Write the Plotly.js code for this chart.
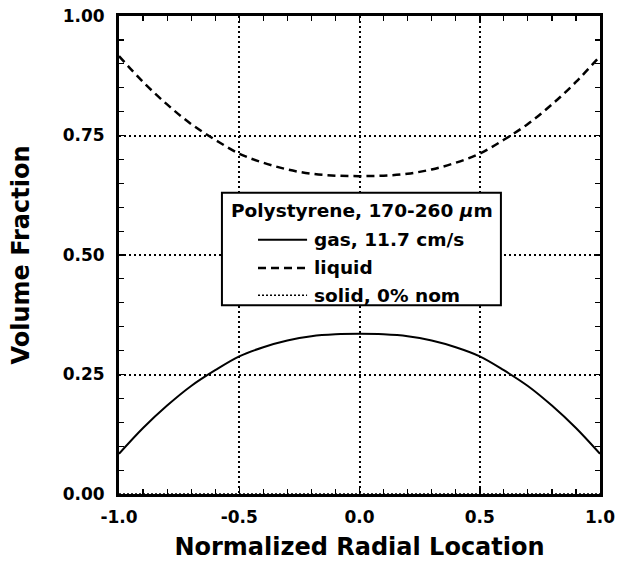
<!DOCTYPE html>
<html>
<head>
<meta charset="utf-8">
<script src="https://cdn.plot.ly/plotly-3.0.1.min.js"></script>
<style>
html,body{margin:0;padding:0;background:#fff;}
#chart{width:623px;height:567px;}
</style>
</head>
<body>
<div id="chart"></div>
<script>
const radialLocation = [-1.0,-0.9,-0.8,-0.7,-0.6,-0.5,-0.4,-0.3,-0.2,-0.1,0.0,0.1,0.2,0.3,0.4,0.5,0.6,0.7,0.8,0.9,1.0];
const gasFraction    = [0.084,0.138,0.185,0.226,0.259,0.288,0.307,0.321,0.330,0.334,0.335,0.334,0.330,0.321,0.307,0.288,0.259,0.226,0.185,0.138,0.084];
const liquidFraction = [0.916,0.862,0.815,0.774,0.741,0.712,0.693,0.679,0.670,0.666,0.665,0.666,0.670,0.679,0.693,0.712,0.741,0.774,0.815,0.862,0.916];
const solidFraction  = [0,0,0,0,0,0,0,0,0,0,0,0,0,0,0,0,0,0,0,0,0];
const seriesNames = ['gas, 11.7 cm/s','liquid','solid, 0% nom'];
const xTickVals = [-1.0,-0.5,0.0,0.5,1.0];
const xTickText = ['-1.0','-0.5','0.0','0.5','1.0'];
const yTickVals = [0,0.25,0.5,0.75,1.0];
const yTickText = ['0.00','0.25','0.50','0.75','1.00'];
const legendTitle = 'Polystyrene, 170-260 <i>μ</i>m';

const FONT = 'DejaVu Sans, Arial, sans-serif';
const lineStyles = [
  {color:'#000', width:2, dash:'solid'},
  {color:'#000', width:2.5, dash:'8px,5px'},
  {color:'#000', width:1.5, dash:'2px,2px'}
];
const seriesY = [gasFraction, liquidFraction, solidFraction];
const traces = seriesY.map((ys, i) => ({
  x: radialLocation, y: ys, name: seriesNames[i], mode:'lines', showlegend:false,
  line: Object.assign({shape: i < 2 ? 'spline' : 'linear'}, lineStyles[i])
}));

// Legend box (drawn in paper coordinates, like the original boxed key)
const legendBox = {x0:0.214, x1:0.794, y0:0.395, y1:0.630};
const legendTitlePos = {x:0.229, y:0.594};
const legendRowsY = [0.532, 0.473, 0.416];
const legendLineX = [0.289, 0.391];
const legendTextX = 0.402;

const shapes = [{type:'rect', xref:'paper', yref:'paper',
  x0:legendBox.x0, x1:legendBox.x1, y0:legendBox.y0, y1:legendBox.y1,
  line:{color:'#000', width:2}, fillcolor:'#fff', layer:'above'}];
const annotations = [{xref:'paper', yref:'paper', x:legendTitlePos.x, y:legendTitlePos.y,
  xanchor:'left', yanchor:'middle', showarrow:false, text:legendTitle,
  font:{family:FONT, size:18.5, color:'#000', weight:'bold'}}];
seriesNames.forEach((nm, i) => {
  shapes.push({type:'line', xref:'paper', yref:'paper',
    x0:legendLineX[0], x1:legendLineX[1], y0:legendRowsY[i], y1:legendRowsY[i],
    line:{color:'#000', width:lineStyles[i].width, dash:lineStyles[i].dash}, layer:'above'});
  annotations.push({xref:'paper', yref:'paper', x:legendTextX, y:legendRowsY[i],
    xanchor:'left', yanchor:'middle', showarrow:false, text:nm,
    font:{family:FONT, size:18.5, color:'#000', weight:'bold'}});
});

const axisCommon = {
  showline:true, linecolor:'#000', linewidth:3, mirror:'allticks',
  ticks:'inside', ticklen:6, tickwidth:1.5, tickcolor:'#000',
  showgrid:true, gridcolor:'#000', gridwidth:2, griddash:'2px,3px',
  zeroline:false,
  tickfont:{family:FONT, size:17, color:'#000', weight:'bold'},
  automargin:false
};
const layout = {
  width:623, height:567,
  margin:{l:119, r:23, t:16, b:73},
  paper_bgcolor:'#fff', plot_bgcolor:'#fff',
  showlegend:false,
  shapes: shapes,
  annotations: annotations,
  xaxis: Object.assign({}, axisCommon, {
    range:[-1,1], tickvals:xTickVals, ticktext:xTickText,
    minor:{dtick:0.1, ticks:'inside', ticklen:5, tickwidth:1.2, tickcolor:'#000', showgrid:false},
    ticklabelstandoff:6,
    title:{text:'Normalized Radial Location', font:{family:FONT, size:24, color:'#000', weight:'bold'}, standoff:12}
  }),
  yaxis: Object.assign({}, axisCommon, {
    range:[0,1], tickvals:yTickVals, ticktext:yTickText,
    minor:{dtick:0.05, ticks:'inside', ticklen:5, tickwidth:1.2, tickcolor:'#000', showgrid:false},
    ticklabelstandoff:8,
    title:{text:'Volume Fraction', font:{family:FONT, size:24, color:'#000', weight:'bold'}, standoff:27}
  })
};
Plotly.newPlot('chart', traces, layout, {displayModeBar:false, staticPlot:true});
</script>
</body>
</html>
